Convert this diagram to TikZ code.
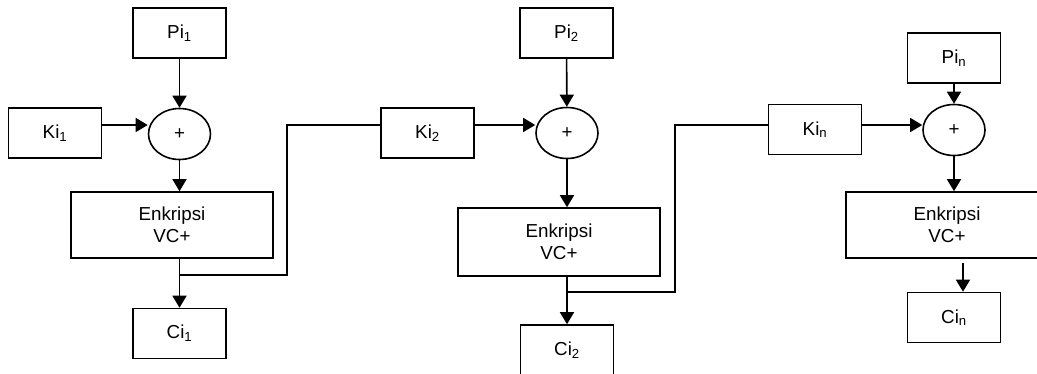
\documentclass[tikz,border=0pt]{standalone}
\usepackage{fontspec}
\setmainfont{Liberation Sans}
\usetikzlibrary{shapes.geometric,arrows.meta}

\begin{document}
\begin{tikzpicture}[x=1pt,y=-1pt,line width=1.6pt,font=\fontsize{18.8}{21.7}\selectfont,
 box/.style={draw,inner sep=0pt,minimum width=93pt,minimum height=50pt},
 wbox/.style={draw,align=center,inner sep=0pt,minimum width=202pt,minimum height=66pt},
 xor/.style={draw,ellipse,inner sep=0pt,minimum width=62pt,minimum height=51pt},
 arr/.style={-{Triangle[length=12pt,width=14pt]}}]
\clip (0,0) rectangle (1037,373);
% stage 1
\node[box] (pi1) at (179.5,33) {Pi\textsubscript{1}};
\node[box] (ki1) at (55,133) {Ki\textsubscript{1}};
\node[xor] (xor1) at (179.5,134) {+};
\node[wbox] (enc1) at (172,225) {Enkripsi\\VC+};
\node[box] (ci1) at (179.5,333.5) {Ci\textsubscript{1}};
% stage 2
\node[box] (pi2) at (566.5,33) {Pi\textsubscript{2}};
\node[box] (ki2) at (427.5,133) {Ki\textsubscript{2}};
\node[xor] (xor2) at (567,133) {+};
\node[wbox,minimum height=68pt] (enc2) at (559,242) {Enkripsi\\VC+};
\node[box] (ci2) at (567,350) {Ci\textsubscript{2}};
% stage n
\node[box] (pin) at (954,58) {Pi\textsubscript{n}};
\node[box] (kin) at (815,129.5) {Ki\textsubscript{n}};
\node[xor] (xorn) at (954,130) {+};
\node[wbox] (encn) at (947,225) {Enkripsi\\VC+};
\node[box] (cin) at (954,317.5) {Ci\textsubscript{n}};
\coordinate (b1) at (287,125);
\coordinate (b2) at (675,125);
\coordinate (tn) at (963,263);
\foreach \s in {1,2,n}{
 \draw[arr] (pi\s) -- (xor\s);
 \draw[arr] (ki\s.east|-0,125) -- (xor\s.west|-0,125);
 \draw[arr] (xor\s) -- (xor\s.south|-enc\s.north);
}
\draw[arr] (ci1.north|-enc1.south) -- (ci1);
\draw (ci1.north|-0,275) -| (b1) -- (ki2.west|-b1);
\draw[arr] (ci2.north|-enc2.south) -- (ci2);
\draw (ci2.north|-0,292) -| (b2) -- (kin.west|-b2);
\draw[arr] (tn) -- (tn|-cin.north);
\end{tikzpicture}
\end{document}
